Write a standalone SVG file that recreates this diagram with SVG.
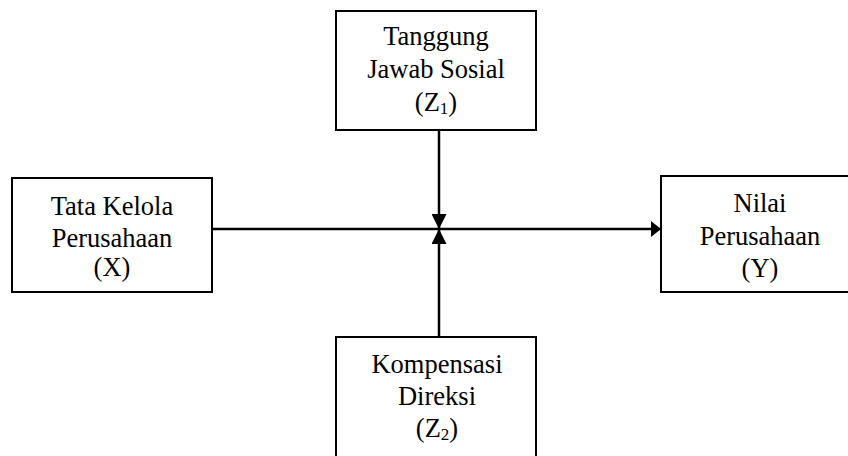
<svg xmlns="http://www.w3.org/2000/svg" width="848" height="456" viewBox="0 0 848 456">
<style>
.box{fill:#fff;stroke:#000;stroke-width:2}
.t{font-family:"Liberation Serif","Times New Roman",serif;font-size:26.5px;fill:#000;text-anchor:middle}
.sub{font-size:17px}
.ln{stroke:#000;stroke-width:2.5;fill:none}
</style>
<defs>
<marker id="ah" viewBox="0 0 10 16" refX="10" refY="8" markerWidth="10" markerHeight="16" markerUnits="userSpaceOnUse" orient="auto">
<path d="M0,0 L10,8 L0,16 Z" fill="#000"/>
</marker>
<marker id="av" viewBox="0 0 15 15" refX="15" refY="7.5" markerWidth="15" markerHeight="15" markerUnits="userSpaceOnUse" orient="auto">
<path d="M0,0 L15,7.5 L0,15 Z" fill="#000"/>
</marker>
</defs>
<g id="connectors">
<line class="ln" x1="212" y1="229" x2="661" y2="229" marker-end="url(#ah)"/>
<line class="ln" x1="439" y1="130" x2="439" y2="229" marker-end="url(#av)"/>
<line class="ln" x1="439" y1="337" x2="439" y2="229" marker-end="url(#av)"/>
</g>
<g id="z1">
<rect class="box" x="336" y="11" width="200" height="119"/>
<text class="t" x="436" y="45">Tanggung</text>
<text class="t" x="436" y="78">Jawab Sosial</text>
<text class="t" x="436" y="111">(Z<tspan class="sub" dy="3">1</tspan><tspan dy="-3">)</tspan></text>
</g>
<g id="x">
<rect class="box" x="12" y="178" width="200" height="114"/>
<text class="t" x="112" y="215">Tata Kelola</text>
<text class="t" x="112" y="247">Perusahaan</text>
<text class="t" x="112" y="276">(X)</text>
</g>
<g id="y">
<rect class="box" x="661" y="176" width="200" height="116"/>
<text class="t" x="760" y="212">Nilai</text>
<text class="t" x="760" y="245">Perusahaan</text>
<text class="t" x="760" y="277">(Y)</text>
</g>
<g id="z2">
<rect class="box" x="336" y="337" width="200" height="130"/>
<text class="t" x="437" y="373">Kompensasi</text>
<text class="t" x="437" y="405">Direksi</text>
<text class="t" x="437" y="437">(Z<tspan class="sub" dy="3">2</tspan><tspan dy="-3">)</tspan></text>
</g>
</svg>
